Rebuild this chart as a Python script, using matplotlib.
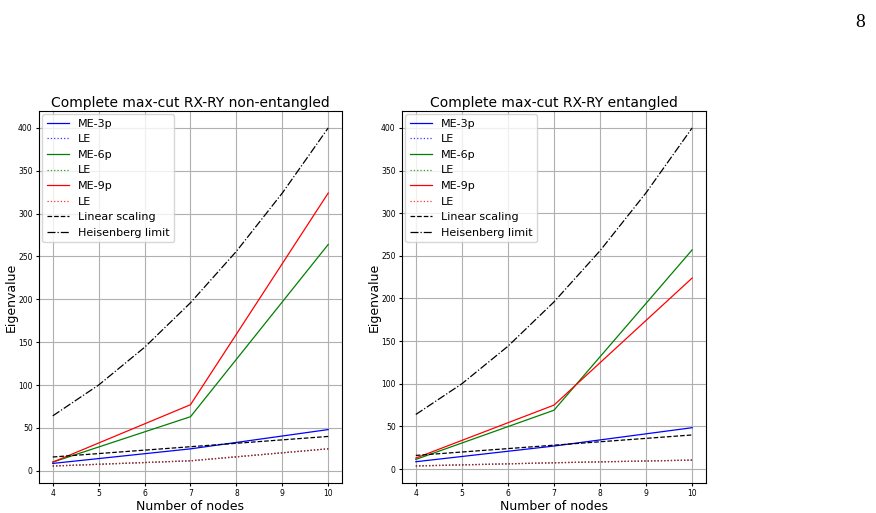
import numpy as np
import matplotlib
matplotlib.use('Agg')
import matplotlib.pyplot as plt

# --- Data ---
nodes = np.array([4, 7, 10])
ticks = [4, 5, 6, 7, 8, 9, 10]

# non-entangled
ne_me3 = [8.5, 25.5, 48]
ne_le3 = [5.5, 11.5, 25.5]
ne_me6 = [10, 63, 264]
ne_le6 = [5.5, 11.6, 25.6]
ne_me9 = [10, 77, 324]
ne_le9 = [5.4, 11.6, 25.6]

# entangled
en_me3 = [8.6, 27, 48.5]
en_le3 = [3.8, 7.4, 10.5]
en_me6 = [11.3, 69, 257]
en_le6 = [3.6, 7.4, 10.5]
en_me9 = [12.9, 75, 224]
en_le9 = [3.5, 7.4, 10.5]

linear = [16, 28, 40]
heis_nodes = np.array([4, 5, 6, 7, 8, 9, 10])
heis = [64, 100, 144, 196, 256, 324, 400]

fig = plt.figure(figsize=(8.76, 5.13), dpi=100)
fig.text(0.9875, 0.972, '8', ha='right', va='top', fontsize=14,
         family='Liberation Serif')

panels = [
    ('Complete max-cut RX-RY non-entangled', [0.0445, 0.0585, 0.3459, 0.7251],
     (ne_me3, ne_le3, ne_me6, ne_le6, ne_me9, ne_le9)),
    ('Complete max-cut RX-RY entangled', [0.4589, 0.0585, 0.347, 0.7251],
     (en_me3, en_le3, en_me6, en_le6, en_me9, en_le9)),
]

for title, pos, (me3, le3, me6, le6, me9, le9) in panels:
    ax = fig.add_axes(pos)
    ax.plot(nodes, me3, color='blue', lw=0.9, label='ME-3p')
    ax.plot(nodes, le3, color='blue', ls=':', lw=0.9, alpha=0.8, label='LE')
    ax.plot(nodes, me6, color='green', lw=0.9, label='ME-6p')
    ax.plot(nodes, le6, color='green', ls=':', lw=0.9, alpha=0.8, label='LE')
    ax.plot(nodes, me9, color='red', lw=0.9, label='ME-9p')
    ax.plot(nodes, le9, color='red', ls=':', lw=0.9, alpha=0.8, label='LE')
    ax.plot(nodes, linear, color='black', ls='--', lw=0.9, label='Linear scaling')
    ax.plot(heis_nodes, heis, color='black', ls='-.', lw=0.9, label='Heisenberg limit')

    ax.set_title(title, fontsize=10, pad=3)
    ax.set_xlabel('Number of nodes', fontsize=9, labelpad=1)
    ax.set_ylabel('Eigenvalue', fontsize=9, labelpad=0)
    ax.set_xticks(ticks)
    ax.tick_params(labelsize=5.5, length=2.5, pad=2)
    ax.grid(True)
    ax.legend(loc='upper left', fontsize=8, handlelength=2, borderaxespad=0.3,
              labelspacing=0.5)

plt.savefig('out.png', dpi=100)
